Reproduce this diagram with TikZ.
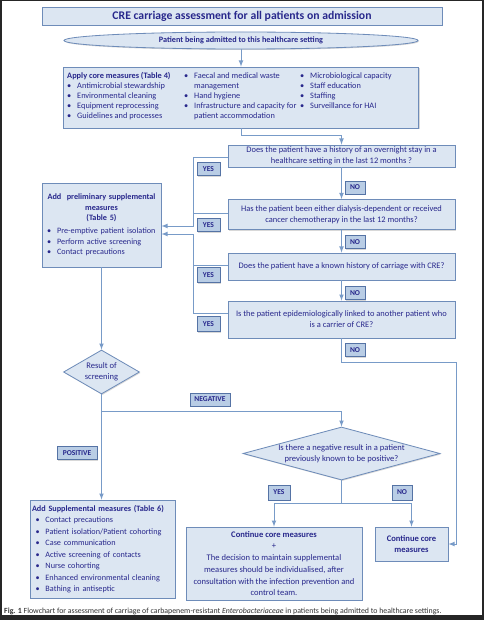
\documentclass[tikz,border=0pt]{standalone}
\usepackage{fontspec}
\setmainfont{Carlito}
\usetikzlibrary{shapes,arrows,positioning,fit,shadows}

\definecolor{ink}{RGB}{40,40,140}
\definecolor{boxfill}{RGB}{220,230,242}
\definecolor{boxline}{RGB}{110,140,185}
\definecolor{tagfill}{RGB}{185,205,229}
\definecolor{tagline}{RGB}{85,115,165}
\definecolor{wire}{RGB}{120,155,200}

\newdimen\pxu \pxu=0.03cm
\newcommand{\itm}{\makebox[8.5pt][l]{\textbullet}}
\newcommand{\gap}{\hspace*{8.5pt}}

\begin{document}
\begin{tikzpicture}[x=\pxu, y=-\pxu,
    line/.style={draw=wire, line width=0.8pt},
    arrow/.style={line, -latex},
    shade/.style={drop shadow={shadow xshift=1\pxu, shadow yshift=-1\pxu, opacity=.3}},
    box/.style={rectangle, draw=boxline, fill=boxfill, line width=0.7pt, text=ink, align=center, inner sep=0pt, shade},
    qbox/.style={box, font=\fontsize{7.2}{9.4}\selectfont, minimum width=227\pxu},
    oval/.style={ellipse, draw=boxline, fill=boxfill, line width=0.7pt, text=ink, inner sep=0pt, font=\bfseries\fontsize{7}{8}\selectfont, shade},
    decide/.style={diamond, draw=boxline, fill=boxfill, line width=0.7pt, text=ink, align=center, inner sep=0pt, font=\fontsize{7.3}{9.8}\selectfont, shade},
    tag/.style={rectangle, draw=tagline, fill=tagfill, line width=0.6pt, text=ink, inner sep=0pt, font=\bfseries\fontsize{6.4}{7}\selectfont, minimum height=13\pxu, shade},
    listtext/.style={text=ink, align=left, inner sep=0pt, font=\fontsize{7.1}{8.5}\selectfont}
]
    % frame
    \fill[black!85] (0,0) rectangle (484,620);
    \fill[white] (2,1) rectangle (482,615);
    \useasboundingbox (0,0) rectangle (484,620);

    % top
    \node[box, minimum width=400\pxu, minimum height=18\pxu, font=\bfseries\fontsize{10}{11}\selectfont] (title) at (242,16) {CRE carriage assessment for all patients on admission};
    \node[oval, minimum width=354\pxu, minimum height=17\pxu] (admit) at (241,40.5) {Patient being admitted to this healthcare setting};

    % core measures
    \node[box, minimum width=355\pxu, minimum height=61\pxu] (core) at (241,97.5) {};
    \node[listtext, anchor=north west] (corea) at (67,72.5) {\textbf{Apply core measures (Table 4)}\\
        \itm Antimicrobial stewardship\\ \itm Environmental cleaning\\ \itm Equipment reprocessing\\ \itm Guidelines and processes};
    \node[listtext, anchor=north west] (coreb) at (184,72.5) {\itm Faecal and medical waste\\ \gap management\\
        \itm Hand hygiene\\ \itm Infrastructure and capacity for\\ \gap patient accommodation};
    \node[listtext, anchor=north west] (corec) at (300,72.5) {\itm Microbiological capacity\\ \itm Staff education\\
        \itm Staffing\\ \itm Surveillance for HAI};

    % questions
    \node[qbox, minimum height=22\pxu] (q1) at (341.5,156) {Does the patient have a history of an overnight stay in a\\ healthcare setting in the last 12 months ?};
    \node[qbox, minimum height=30\pxu] (q2) at (341.5,214.5) {Has the patient been either dialysis-dependent or received\\ cancer chemotherapy in the last 12 months?};
    \node[qbox, minimum height=27\pxu] (q3) at (341.5,266.5) {Does the patient have a known history of carriage with CRE?};
    \node[qbox, minimum height=37\pxu] (q4) at (341.5,319.5) {Is the patient epidemiologically linked to another patient who\\ is a carrier of CRE?};

    \node[tag, minimum width=20\pxu] (no1) at (355,187.5) {NO};
    \node[tag, minimum width=20\pxu] (no2) at (355,242) {NO};
    \node[tag, minimum width=20\pxu] (no3) at (355,293) {NO};
    \node[tag, minimum width=20\pxu] (no4) at (355,350) {NO};
    \node[tag, minimum width=23\pxu] (yes1) at (208.5,169) {YES};
    \node[tag, minimum width=23\pxu] (yes2) at (208.5,225) {YES};
    \node[tag, minimum width=23\pxu, minimum height=15\pxu] (yes3) at (208.5,275) {YES};
    \node[tag, minimum width=23\pxu, minimum height=15\pxu] (yes4) at (208.5,324) {YES};

    % preliminary measures
    \node[box, minimum width=119\pxu, minimum height=84\pxu, text width=111\pxu, align=left, font=\fontsize{7}{9}\selectfont] (prelim) at (101.5,225)
        {\makebox[111\pxu]{\bfseries Add\ \ preliminary supplemental}\\ \makebox[111\pxu]{\bfseries measures}\\
        \makebox[111\pxu]{\bfseries (Table 5)}\\[2pt]
        \hspace*{1pt}\itm Pre-emptive patient isolation\\ \hspace*{1pt}\itm Perform active screening\\ \hspace*{1pt}\itm Contact precautions};

    % screening
    \node[decide, aspect=1.73, minimum width=76\pxu, minimum height=44\pxu] (result) at (101.5,372) {Result of\\ screening};
    \node[decide, aspect=3.7, minimum width=197\pxu, minimum height=53\pxu] (q5) at (341.5,453.5) {Is there a negative result in a patient\\ previously known to be positive?};
    \node[tag, minimum width=40\pxu] (neg) at (210,399.5) {NEGATIVE};
    \node[tag, minimum width=40\pxu] (pos) at (77,453) {POSITIVE};
    \node[tag, minimum width=22\pxu, minimum height=15\pxu] (yes5) at (279,492.5) {YES};
    \node[tag, minimum width=20\pxu, minimum height=15\pxu] (no5) at (402,492.5) {NO};

    % outcomes
    \node[box, minimum width=145\pxu, minimum height=98\pxu, text width=141\pxu, align=left, font=\fontsize{7}{9.8}\selectfont] (supp) at (102.5,549)
        {\textbf{Add Supplemental measures (Table 6)}\\
        \hspace*{3pt}\itm Contact precautions\\ \hspace*{3pt}\itm Patient isolation/Patient cohorting\\
        \hspace*{3pt}\itm Case communication\\ \hspace*{3pt}\itm Active screening of contacts\\
        \hspace*{3pt}\itm Nurse cohorting\\ \hspace*{3pt}\itm Enhanced environmental cleaning\\
        \hspace*{3pt}\itm Bathing in antiseptic};
    \node[box, minimum width=176\pxu, minimum height=73\pxu, font=\fontsize{7.3}{10}\selectfont] (cont1) at (274,563.5)
        {\textbf{Continue core measures}\\ +\\ The decision to maintain supplemental\\ measures should be individualised, after\\
        consultation with the infection prevention and\\ control team.};
    \node[box, minimum width=73\pxu, minimum height=34\pxu, font=\bfseries\fontsize{7.3}{10}\selectfont] (cont2) at (411.5,544) {Continue core\\ measures};

    \node[anchor=west, inner sep=0pt, text=black!80, font=\fontsize{6.7}{7}\selectfont] (caption) at (4,611.5)
        {\textbf{Fig. 1} Flowchart for assessment of carriage of carbapenem-resistant \textit{Enterobacteriaceae} in patients being admitted to healthcare settings.};

    % connectors
    \coordinate (inA) at ([yshift=-1\pxu]prelim.east);
    \coordinate (inB) at ([yshift=-9\pxu]prelim.east);
    \coordinate (rail) at (456,362);
    \coordinate (split) at (101.5,411);
    \coordinate (fork) at (341.5,503);

    \draw[arrow] (admit) -- (core);
    \draw[arrow] (core.south) -- ++(0,7) -| (q1.north);
    \draw[arrow] (q1) -- (q2);
    \draw[arrow] (q2) -- (q3);
    \draw[arrow] (q3) -- (q4);
    \draw[arrow] (q4.south) |- (rail) |- (cont2.east);

    \draw[arrow] ([yshift=-1\pxu]q1.west) -- ++(-34,0) |- (inA);
    \draw[line] ([yshift=1\pxu]q2.west) -- ++(-34,0);
    \draw[line] ([yshift=1\pxu]q3.west) -- ++(-34,0);
    \draw[arrow] ([yshift=6\pxu]q4.west) -- ++(-34,0) |- (inB);

    \draw[arrow] (prelim) -- (result);
    \draw[line] (result.south) -- (split);
    \draw[arrow] (split) -| (q5.north);
    \draw[arrow] (split) -- (split |- supp.north);
    \draw[line] (q5.south) -- (fork);
    \draw[arrow] (fork) -| (cont1.north);
    \draw[arrow] (fork) -| (cont2.north);
\end{tikzpicture}
\end{document}
